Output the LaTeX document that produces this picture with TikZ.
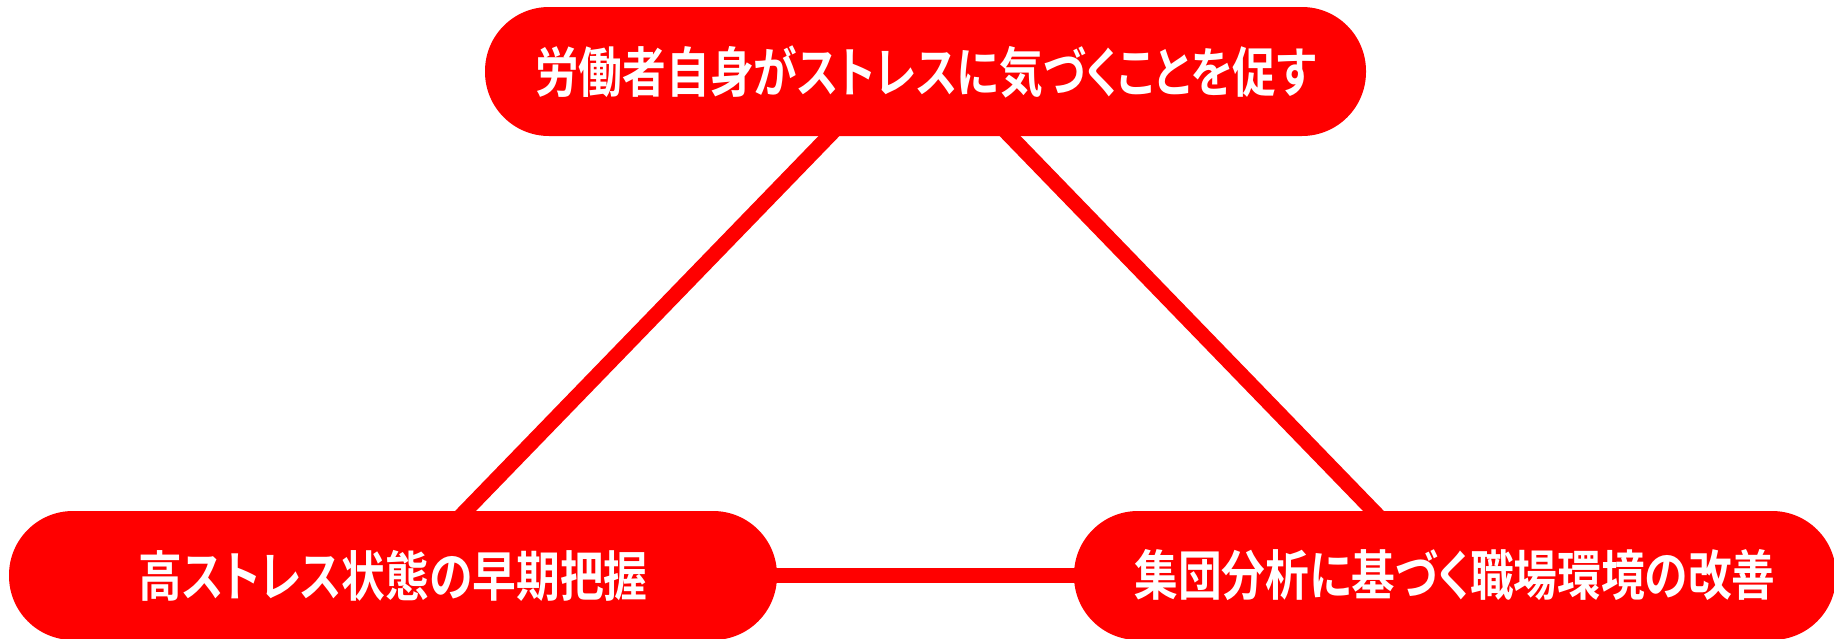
\documentclass[tikz,border=0pt]{standalone}
\usepackage{fontspec}
\usetikzlibrary{backgrounds}
\newfontfamily\jpfont[FakeStretch=0.81,RawFeature=+palt]{Noto Sans CJK JP Bold}
\definecolor{myred}{HTML}{FF0000}
\begin{document}
\begin{tikzpicture}[x=1pt,y=-1pt,
  pill/.style={fill=myred, draw=none, rounded corners=64pt, minimum height=129pt, inner sep=0pt, text=white, font=\jpfont\fontsize{54pt}{54pt}\selectfont},
  link/.style={draw=myred, line width=15pt}]
\useasboundingbox (0,0) rectangle (1834,638);
\node[pill, minimum width=881pt] (top) at (925.5,71.5) {労働者自身がストレスに気づくことを促す};
\node[pill, minimum width=768pt] (bl) at (393,575.5) {高ストレス状態の早期把握};
\node[pill, minimum width=762pt] (br) at (1455,575.5) {集団分析に基づく職場環境の改善};
\begin{scope}[on background layer]
\draw[link] ([xshift=-34pt]top.center) -- ([xshift=10pt]bl.center);
\draw[link] ([xshift=22pt]top.center) -- ([xshift=-19pt]br.center);
\draw[link] (bl.center) -- (br.center);
\end{scope}
\end{tikzpicture}
\end{document}
